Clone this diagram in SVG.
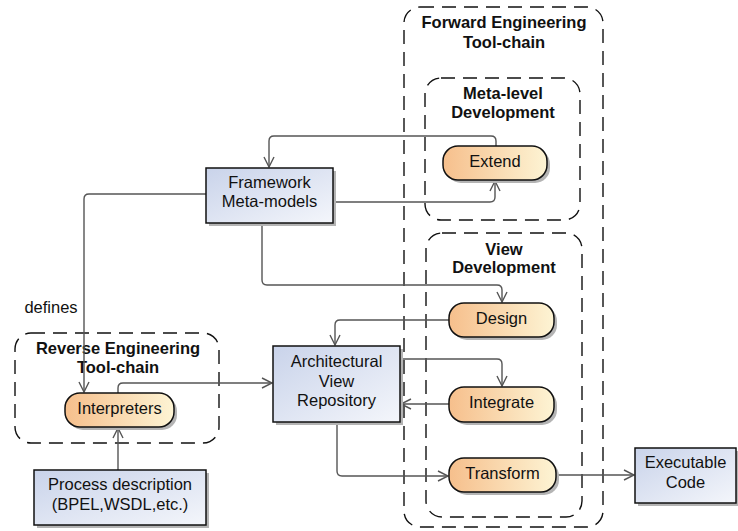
<svg xmlns="http://www.w3.org/2000/svg" width="738" height="531" viewBox="0 0 738 531">
<defs>
<linearGradient id="gBlue" x1="0" y1="0" x2="1" y2="1">
<stop offset="0" stop-color="#c9d3ea"/>
<stop offset="1" stop-color="#f4f6fb"/>
</linearGradient>
<linearGradient id="gOrange" x1="0" y1="0" x2="1" y2="0">
<stop offset="0" stop-color="#f6bf8c"/>
<stop offset="1" stop-color="#fdf4d4"/>
</linearGradient>
<marker id="arr" markerWidth="14" markerHeight="14" refX="11" refY="6" orient="auto" markerUnits="userSpaceOnUse">
<path d="M1,1 L11,6 L1,11" fill="none" stroke="#555" stroke-width="1.4"/>
</marker>
</defs>
<style>
.grp{fill:none;stroke:#111;stroke-width:1.4;stroke-dasharray:14,8}
.title{font-family:"Liberation Sans",Arial,sans-serif;font-size:16.5px;font-weight:bold;fill:#111;text-anchor:middle}
.lbl{font-family:"Liberation Sans",Arial,sans-serif;font-size:16.5px;fill:#111;text-anchor:middle}
.box{fill:url(#gBlue);stroke:#111;stroke-width:1.5}
.act{fill:url(#gOrange);stroke:#111;stroke-width:1.5}
.shd{fill:#b4b4b4}
.conn{fill:none;stroke:#555;stroke-width:1.4;marker-end:url(#arr)}
</style>
<rect width="738" height="531" fill="#fff"/>

<g id="forward-toolchain">
<rect class="grp" x="404" y="7" width="199" height="520" rx="16"/>
<text class="title" x="504" y="28">Forward Engineering</text>
<text class="title" x="504" y="48">Tool-chain</text>
</g>
<g id="meta-level-development">
<rect class="grp" x="425" y="78" width="155" height="142" rx="16"/>
<text class="title" x="503" y="99">Meta-level</text>
<text class="title" x="503" y="118">Development</text>
</g>
<g id="view-development">
<rect class="grp" x="426" y="233" width="156" height="284" rx="16"/>
<text class="title" x="504" y="255">View</text>
<text class="title" x="504" y="273">Development</text>
</g>
<g id="reverse-toolchain">
<rect class="grp" x="15" y="333" width="204" height="110" rx="16"/>
<text class="title" x="118" y="354">Reverse Engineering</text>
<text class="title" x="118" y="373">Tool-chain</text>
</g>

<g id="connectors">
<path class="conn" d="M496,146 V141 Q496,136 491,136 H274 Q269,136 269,141 V167"/>
<path class="conn" d="M333,202 H490 Q495,202 495,197 V181"/>
<path class="conn" d="M206,194 H89 Q84,194 84,199 V392"/>
<path class="conn" d="M262,223 V280 Q262,285 267,285 H497 Q502,285 502,290 V302"/>
<path class="conn" d="M449,320 H340 Q335,320 335,325 V345"/>
<path class="conn" d="M400,359 H497 Q502,359 502,364 V386"/>
<path class="conn" d="M449,404 H401"/>
<path class="conn" d="M337,422 V471 Q337,476 342,476 H448"/>
<path class="conn" d="M118,393 V388 Q118,383 123,383 H272"/>
<path class="conn" d="M118,470 V428"/>
<path class="conn" d="M556,475 H634"/>
<text class="lbl" x="51" y="313">defines</text>
</g>

<g id="framework-meta-models">
<rect class="shd" x="209" y="171" width="127" height="55"/>
<rect class="box" x="206" y="168" width="127" height="55"/>
<text class="lbl" x="269.5" y="188">Framework</text>
<text class="lbl" x="269.5" y="207">Meta-models</text>
</g>
<g id="extend">
<rect class="shd" x="446" y="149" width="104" height="34" rx="15"/>
<rect class="act" x="443" y="146" width="104" height="34" rx="15"/>
<text class="lbl" x="495" y="167">Extend</text>
</g>
<g id="design">
<rect class="shd" x="452" y="306" width="105" height="34" rx="15"/>
<rect class="act" x="449" y="303" width="105" height="34" rx="15"/>
<text class="lbl" x="501.5" y="324">Design</text>
</g>
<g id="integrate">
<rect class="shd" x="452" y="390" width="105" height="35" rx="15"/>
<rect class="act" x="449" y="387" width="105" height="35" rx="15"/>
<text class="lbl" x="501.5" y="408">Integrate</text>
</g>
<g id="transform">
<rect class="shd" x="452" y="461" width="107" height="34" rx="15"/>
<rect class="act" x="449" y="458" width="107" height="34" rx="15"/>
<text class="lbl" x="502.5" y="479">Transform</text>
</g>
<g id="architectural-view-repository">
<rect class="shd" x="276" y="349" width="127" height="76"/>
<rect class="box" x="273" y="346" width="127" height="76"/>
<text class="lbl" x="336.5" y="367">Architectural</text>
<text class="lbl" x="336.5" y="387">View</text>
<text class="lbl" x="336.5" y="406">Repository</text>
</g>
<g id="interpreters">
<rect class="shd" x="68" y="396" width="109" height="34" rx="15"/>
<rect class="act" x="65" y="393" width="109" height="34" rx="15"/>
<text class="lbl" x="119.5" y="414">Interpreters</text>
</g>
<g id="process-description">
<rect class="shd" x="37" y="473" width="172" height="55"/>
<rect class="box" x="34" y="470" width="172" height="55"/>
<text class="lbl" x="120" y="490">Process description</text>
<text class="lbl" x="120" y="510">(BPEL,WSDL,etc.)</text>
</g>
<g id="executable-code">
<rect class="shd" x="638" y="451" width="100" height="55"/>
<rect class="box" x="635" y="448" width="101" height="55"/>
<text class="lbl" x="685.5" y="468">Executable</text>
<text class="lbl" x="685.5" y="488">Code</text>
</g>
</svg>
